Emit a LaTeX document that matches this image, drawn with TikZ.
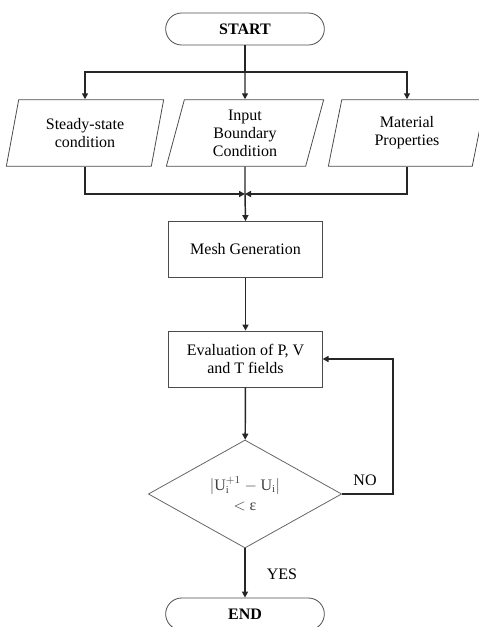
\documentclass[tikz,border=0pt]{standalone}
\usepackage{fontspec}
\setmainfont{Liberation Serif}
\usetikzlibrary{shapes.geometric, arrows.meta}

\begin{document}
\begin{tikzpicture}[x=0.75pt, y=-0.75pt,
  every node/.style={font=\fontsize{12}{13.5}\selectfont, align=center},
  terminal/.style={draw=black!70, line width=0.6pt, rounded corners=12pt,
    minimum width=119pt, minimum height=24pt,
    font=\fontsize{12}{13.5}\selectfont\bfseries},
  inputbox/.style={trapezium, trapezium left angle=72, trapezium right angle=108,
    trapezium stretches body, draw=black!70, line width=0.6pt,
    minimum width=118pt, minimum height=50pt, inner xsep=1pt},
  process/.style={draw=black!70, line width=0.6pt, minimum width=115pt, minimum height=42pt},
  decision/.style={diamond, draw=black!60, line width=0.6pt, aspect=1.8,
    minimum width=145pt, minimum height=81pt, inner sep=0pt, text=black!75},
  flow/.style={draw=black!85, line width=1.1pt},
  arrow/.style={flow, -{Triangle[length=4.5pt, width=4.5pt]}}]

  % Fix the page to the size of the figure
  \useasboundingbox (0,0) rectangle (478,627);

  % Start and the three inputs
  \node[terminal] (start) at (245,29) {START};
  \node[inputbox] (steady) at (85,133) {Steady-state\\condition};
  \node[inputbox] (input) at (245,133) {Input\\Boundary\\Condition};
  \node[inputbox] (material) at (407,133) {Material\\Properties};

  % Process steps and the convergence check
  \node[process] (mesh) at (245.5,249.5) {Mesh Generation};
  \node[process] (eval) at (245.5,359) {Evaluation of P, V\\and T fields};
  \node[decision] (check) at (245,494) {$|\mathrm{U}_{\mathrm{i}}^{+1} - \mathrm{U}_{\mathrm{i}}|$\\[2pt]$<$ ε};
  \node[terminal] (end) at (245,614) {END};

  % Split and merge points
  \coordinate (split) at (245,72);
  \coordinate (merge) at (245,194);
  \coordinate (loop) at (393,494);

  % Connectors from start to the inputs
  \draw[flow] (start) -- (split);
  \draw[arrow] (split) -| (steady.north);
  \draw[arrow] (split) -- (input.north);
  \draw[arrow] (split) -| (material.north);

  % Connectors from the inputs to the mesh
  \draw[arrow] (steady.south) |- (merge);
  \draw[arrow] (material.south) |- (merge);
  \draw[flow] (input.south) -- (merge);
  \draw[arrow] (merge) -- (mesh.north);

  % Main flow and the loop back
  \draw[arrow] (mesh) -- (eval);
  \draw[arrow] (eval) -- (check);
  \draw[arrow] (check.east) -- (loop) |- (eval.east);
  \draw[arrow] (check) -- (end);

  % Labels of the branches
  \node (no) at (365,480) {NO};
  \node (yes) at (282,574) {YES};

\end{tikzpicture}
\end{document}
